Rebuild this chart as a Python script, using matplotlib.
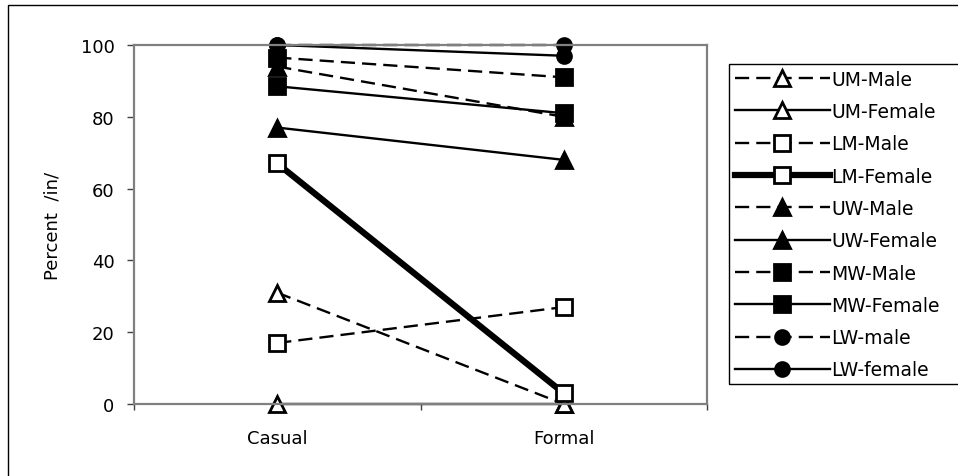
import matplotlib
matplotlib.use("Agg")
import matplotlib.pyplot as plt
from matplotlib.patches import Rectangle
from matplotlib.ticker import FixedLocator, NullFormatter

plt.rcParams['font.family'] = ['DejaVu Sans']

# Styles and percentages of /in/ per group
styles = ["Casual", "Formal"]
groups = ["UM-Male", "UM-Female", "LM-Male", "LM-Female", "UW-Male",
          "UW-Female", "MW-Male", "MW-Female", "LW-male", "LW-female"]
um_male = [31, 0]
um_female = [0, 0]
lm_male = [17, 27]
lm_female = [67, 3]
uw_male = [94, 80]
uw_female = [77, 68]
mw_male = [96.5, 91]
mw_female = [88.5, 81]
lw_male = [100, 100]
lw_female = [100, 97]
values = [um_male, um_female, lm_male, lm_female, uw_male,
          uw_female, mw_male, mw_female, lw_male, lw_female]

dash = (0, (6, 3))
# (linestyle, linewidth, marker, filled)
looks = [(dash, 1.7, "^", False), ("-", 1.7, "^", False),
         (dash, 1.7, "s", False), ("-", 4.5, "s", False),
         (dash, 1.7, "^", True), ("-", 1.7, "^", True),
         (dash, 1.7, "s", True), ("-", 1.7, "s", True),
         (dash, 1.7, "o", True), ("-", 1.7, "o", True)]

fig = plt.figure(figsize=(9.58, 4.77), dpi=100)
ax = fig.add_axes([134 / 958, 72 / 477, (707 - 134) / 958, (405 - 46) / 477])

xpos = [0.5, 1.5]  # categories sit between the boundary ticks
for name, vals, (ls, lw, mk, filled) in zip(groups, values, looks):
    ms = 11 if mk != "o" else 10
    ax.plot(xpos, vals, color="black", linestyle=ls, linewidth=lw,
            marker=mk, markersize=ms, markeredgewidth=2,
            markerfacecolor="black" if filled else "white",
            markeredgecolor="black", clip_on=False, label=name)

ax.set_xlim(0, 2)
ax.set_ylim(0, 100)
ax.set_yticks([0, 20, 40, 60, 80, 100])
ax.xaxis.set_major_locator(FixedLocator([0, 1, 2]))
ax.xaxis.set_major_formatter(NullFormatter())
ax.xaxis.set_minor_locator(FixedLocator(xpos))
ax.set_xticklabels(styles, minor=True)
ax.tick_params(axis="x", which="minor", length=0, pad=18, labelsize=13)
ax.tick_params(axis="x", which="major", length=4, width=1, color="#404040")
ax.tick_params(axis="y", length=5, width=1, color="#404040", pad=9, labelsize=13)
ax.set_ylabel("Percent  /in/", fontsize=13, labelpad=14)

for side in ["left", "right", "top", "bottom"]:
    ax.spines[side].set_color("#808080")
    ax.spines[side].set_linewidth(1.6)

# legend text and handles, boxed by hand so it runs off the right edge
leg = fig.legend(loc="upper left", bbox_to_anchor=(729 / 958, 1 - 65 / 477),
                 frameon=False, fontsize=13.5, handlelength=5.1,
                 handletextpad=0.05, labelspacing=0.71, borderpad=0.3,
                 borderaxespad=0, numpoints=1)
fig.add_artist(Rectangle((729 / 958, 1 - 385 / 477), 0.5, (385 - 65) / 477,
                         transform=fig.transFigure, fill=False,
                         edgecolor="black", linewidth=1))

# outer chart border
fig.add_artist(Rectangle((8 / 958, -0.2), 1.2, 1.2 - 6 / 477,
                         transform=fig.transFigure, fill=False,
                         edgecolor="black", linewidth=1))

fig.savefig("out.png", dpi=100)
